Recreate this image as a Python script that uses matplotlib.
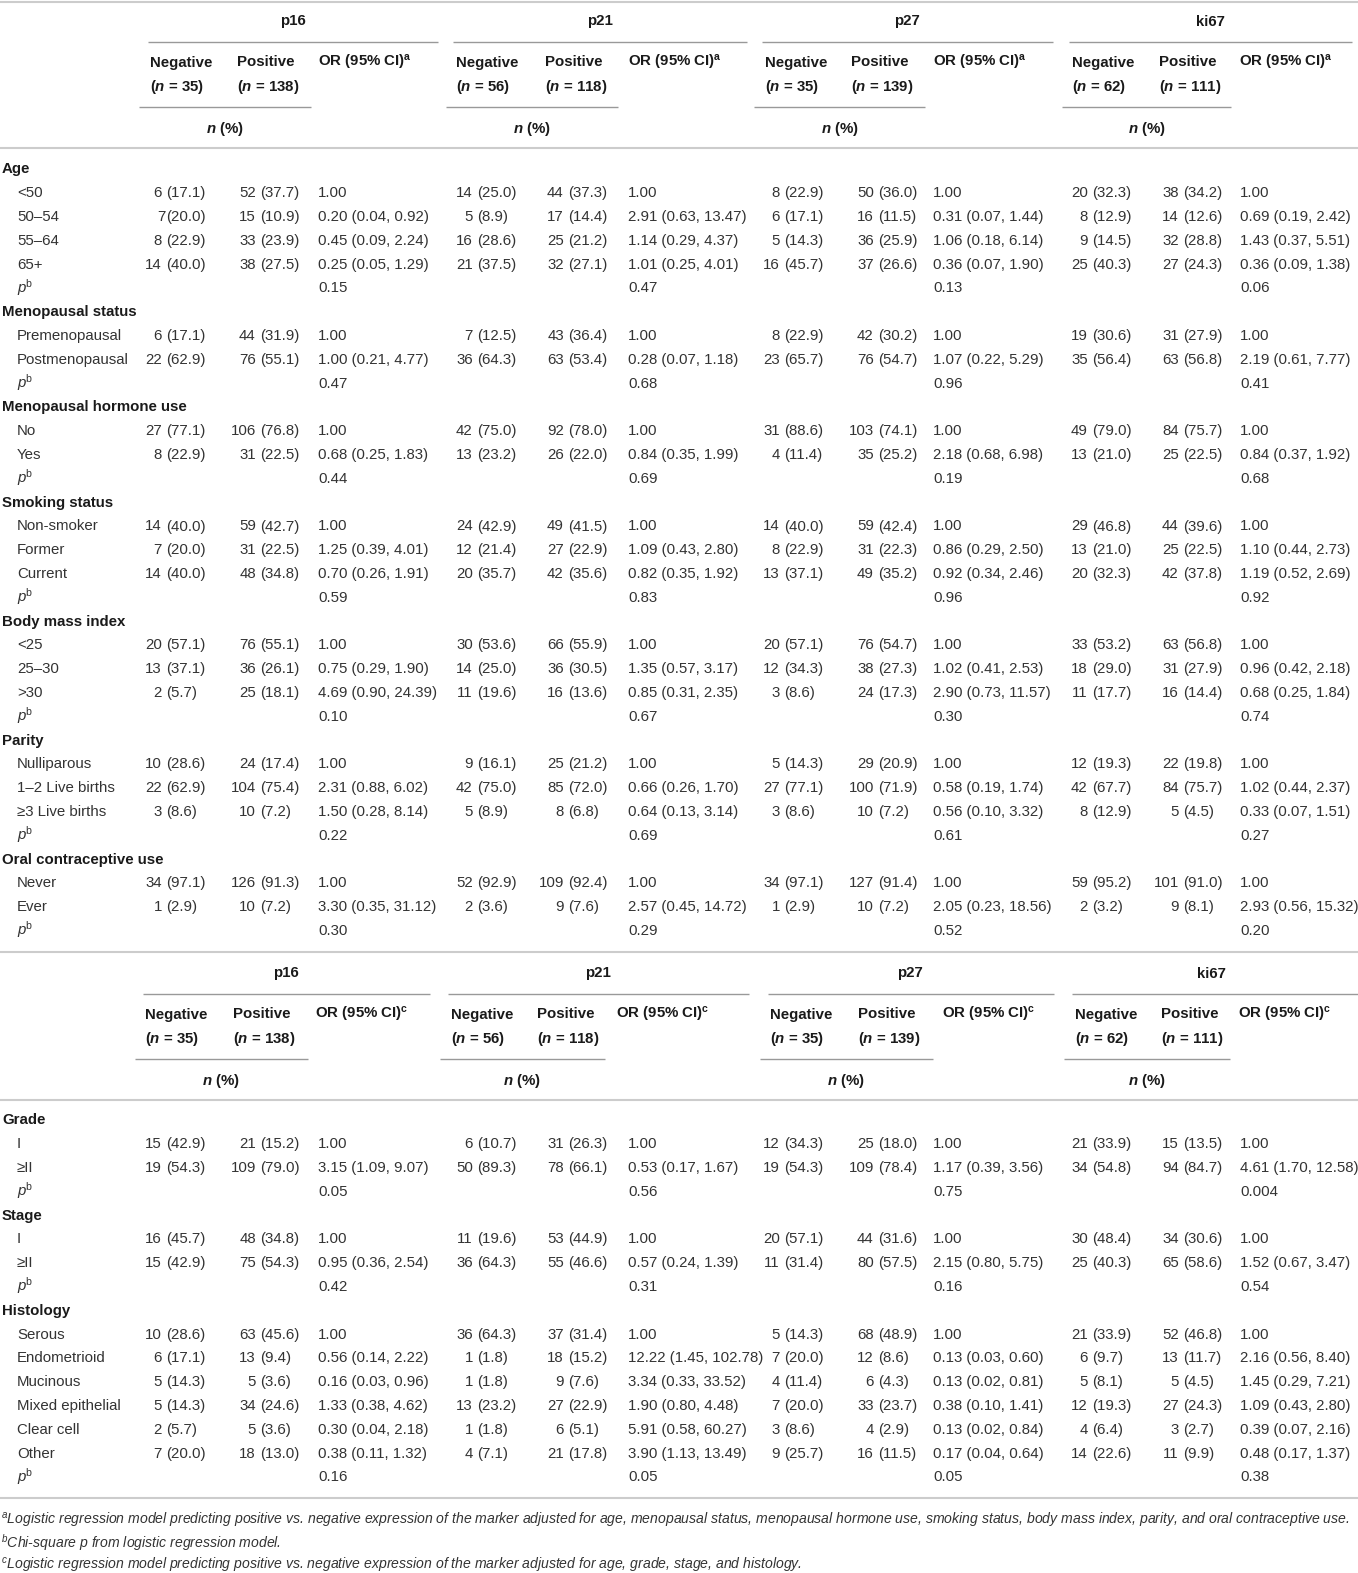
import matplotlib.pyplot as plt

plt.rcParams['font.family'] = ['Liberation Sans', 'DejaVu Sans']
plt.rcParams['mathtext.fontset'] = 'custom'
plt.rcParams['mathtext.rm'] = 'Liberation Sans'
plt.rcParams['mathtext.it'] = 'Liberation Sans:italic:bold'
plt.rcParams['mathtext.bf'] = 'Liberation Sans:bold'
plt.rcParams['mathtext.sf'] = 'Liberation Sans:italic'

# ---- data -------------------------------------------------------------
markers = ['p16', 'p21', 'p27', 'ki67']
n_neg = [35, 56, 35, 62]
n_pos = [138, 118, 139, 111]

# each row: label, then for every marker: negative n (%), positive n (%), OR (95% CI)
age_rows = [
    ('<50', ['6 (17.1)', '52 (37.7)', '1.00', '14 (25.0)', '44 (37.3)', '1.00',
             '8 (22.9)', '50 (36.0)', '1.00', '20 (32.3)', '38 (34.2)', '1.00']),
    ('50–54', ['7(20.0)', '15 (10.9)', '0.20 (0.04, 0.92)', '5 (8.9)', '17 (14.4)', '2.91 (0.63, 13.47)',
               '6 (17.1)', '16 (11.5)', '0.31 (0.07, 1.44)', '8 (12.9)', '14 (12.6)', '0.69 (0.19, 2.42)']),
    ('55–64', ['8 (22.9)', '33 (23.9)', '0.45 (0.09, 2.24)', '16 (28.6)', '25 (21.2)', '1.14 (0.29, 4.37)',
               '5 (14.3)', '36 (25.9)', '1.06 (0.18, 6.14)', '9 (14.5)', '32 (28.8)', '1.43 (0.37, 5.51)']),
    ('65+', ['14 (40.0)', '38 (27.5)', '0.25 (0.05, 1.29)', '21 (37.5)', '32 (27.1)', '1.01 (0.25, 4.01)',
             '16 (45.7)', '37 (26.6)', '0.36 (0.07, 1.90)', '25 (40.3)', '27 (24.3)', '0.36 (0.09, 1.38)']),
]
age_p = ['0.15', '0.47', '0.13', '0.06']

meno_rows = [
    ('Premenopausal', ['6 (17.1)', '44 (31.9)', '1.00', '7 (12.5)', '43 (36.4)', '1.00',
                       '8 (22.9)', '42 (30.2)', '1.00', '19 (30.6)', '31 (27.9)', '1.00']),
    ('Postmenopausal', ['22 (62.9)', '76 (55.1)', '1.00 (0.21, 4.77)', '36 (64.3)', '63 (53.4)', '0.28 (0.07, 1.18)',
                        '23 (65.7)', '76 (54.7)', '1.07 (0.22, 5.29)', '35 (56.4)', '63 (56.8)', '2.19 (0.61, 7.77)']),
]
meno_p = ['0.47', '0.68', '0.96', '0.41']

hormone_rows = [
    ('No', ['27 (77.1)', '106 (76.8)', '1.00', '42 (75.0)', '92 (78.0)', '1.00',
            '31 (88.6)', '103 (74.1)', '1.00', '49 (79.0)', '84 (75.7)', '1.00']),
    ('Yes', ['8 (22.9)', '31 (22.5)', '0.68 (0.25, 1.83)', '13 (23.2)', '26 (22.0)', '0.84 (0.35, 1.99)',
             '4 (11.4)', '35 (25.2)', '2.18 (0.68, 6.98)', '13 (21.0)', '25 (22.5)', '0.84 (0.37, 1.92)']),
]
hormone_p = ['0.44', '0.69', '0.19', '0.68']

smoking_rows = [
    ('Non-smoker', ['14 (40.0)', '59 (42.7)', '1.00', '24 (42.9)', '49 (41.5)', '1.00',
                    '14 (40.0)', '59 (42.4)', '1.00', '29 (46.8)', '44 (39.6)', '1.00']),
    ('Former', ['7 (20.0)', '31 (22.5)', '1.25 (0.39, 4.01)', '12 (21.4)', '27 (22.9)', '1.09 (0.43, 2.80)',
                '8 (22.9)', '31 (22.3)', '0.86 (0.29, 2.50)', '13 (21.0)', '25 (22.5)', '1.10 (0.44, 2.73)']),
    ('Current', ['14 (40.0)', '48 (34.8)', '0.70 (0.26, 1.91)', '20 (35.7)', '42 (35.6)', '0.82 (0.35, 1.92)',
                 '13 (37.1)', '49 (35.2)', '0.92 (0.34, 2.46)', '20 (32.3)', '42 (37.8)', '1.19 (0.52, 2.69)']),
]
smoking_p = ['0.59', '0.83', '0.96', '0.92']

bmi_rows = [
    ('<25', ['20 (57.1)', '76 (55.1)', '1.00', '30 (53.6)', '66 (55.9)', '1.00',
             '20 (57.1)', '76 (54.7)', '1.00', '33 (53.2)', '63 (56.8)', '1.00']),
    ('25–30', ['13 (37.1)', '36 (26.1)', '0.75 (0.29, 1.90)', '14 (25.0)', '36 (30.5)', '1.35 (0.57, 3.17)',
               '12 (34.3)', '38 (27.3)', '1.02 (0.41, 2.53)', '18 (29.0)', '31 (27.9)', '0.96 (0.42, 2.18)']),
    ('>30', ['2 (5.7)', '25 (18.1)', '4.69 (0.90, 24.39)', '11 (19.6)', '16 (13.6)', '0.85 (0.31, 2.35)',
             '3 (8.6)', '24 (17.3)', '2.90 (0.73, 11.57)', '11 (17.7)', '16 (14.4)', '0.68 (0.25, 1.84)']),
]
bmi_p = ['0.10', '0.67', '0.30', '0.74']

parity_rows = [
    ('Nulliparous', ['10 (28.6)', '24 (17.4)', '1.00', '9 (16.1)', '25 (21.2)', '1.00',
                     '5 (14.3)', '29 (20.9)', '1.00', '12 (19.3)', '22 (19.8)', '1.00']),
    ('1–2 Live births', ['22 (62.9)', '104 (75.4)', '2.31 (0.88, 6.02)', '42 (75.0)', '85 (72.0)', '0.66 (0.26, 1.70)',
                         '27 (77.1)', '100 (71.9)', '0.58 (0.19, 1.74)', '42 (67.7)', '84 (75.7)', '1.02 (0.44, 2.37)']),
    ('≥3 Live births', ['3 (8.6)', '10 (7.2)', '1.50 (0.28, 8.14)', '5 (8.9)', '8 (6.8)', '0.64 (0.13, 3.14)',
                        '3 (8.6)', '10 (7.2)', '0.56 (0.10, 3.32)', '8 (12.9)', '5 (4.5)', '0.33 (0.07, 1.51)']),
]
parity_p = ['0.22', '0.69', '0.61', '0.27']

oc_rows = [
    ('Never', ['34 (97.1)', '126 (91.3)', '1.00', '52 (92.9)', '109 (92.4)', '1.00',
               '34 (97.1)', '127 (91.4)', '1.00', '59 (95.2)', '101 (91.0)', '1.00']),
    ('Ever', ['1 (2.9)', '10 (7.2)', '3.30 (0.35, 31.12)', '2 (3.6)', '9 (7.6)', '2.57 (0.45, 14.72)',
              '1 (2.9)', '10 (7.2)', '2.05 (0.23, 18.56)', '2 (3.2)', '9 (8.1)', '2.93 (0.56, 15.32)']),
]
oc_p = ['0.30', '0.29', '0.52', '0.20']

grade_rows = [
    ('I', ['15 (42.9)', '21 (15.2)', '1.00', '6 (10.7)', '31 (26.3)', '1.00',
           '12 (34.3)', '25 (18.0)', '1.00', '21 (33.9)', '15 (13.5)', '1.00']),
    ('≥II', ['19 (54.3)', '109 (79.0)', '3.15 (1.09, 9.07)', '50 (89.3)', '78 (66.1)', '0.53 (0.17, 1.67)',
             '19 (54.3)', '109 (78.4)', '1.17 (0.39, 3.56)', '34 (54.8)', '94 (84.7)', '4.61 (1.70, 12.58)']),
]
grade_p = ['0.05', '0.56', '0.75', '0.004']

stage_rows = [
    ('I', ['16 (45.7)', '48 (34.8)', '1.00', '11 (19.6)', '53 (44.9)', '1.00',
           '20 (57.1)', '44 (31.6)', '1.00', '30 (48.4)', '34 (30.6)', '1.00']),
    ('≥II', ['15 (42.9)', '75 (54.3)', '0.95 (0.36, 2.54)', '36 (64.3)', '55 (46.6)', '0.57 (0.24, 1.39)',
             '11 (31.4)', '80 (57.5)', '2.15 (0.80, 5.75)', '25 (40.3)', '65 (58.6)', '1.52 (0.67, 3.47)']),
]
stage_p = ['0.42', '0.31', '0.16', '0.54']

histology_rows = [
    ('Serous', ['10 (28.6)', '63 (45.6)', '1.00', '36 (64.3)', '37 (31.4)', '1.00',
                '5 (14.3)', '68 (48.9)', '1.00', '21 (33.9)', '52 (46.8)', '1.00']),
    ('Endometrioid', ['6 (17.1)', '13 (9.4)', '0.56 (0.14, 2.22)', '1 (1.8)', '18 (15.2)', '12.22 (1.45, 102.78)',
                      '7 (20.0)', '12 (8.6)', '0.13 (0.03, 0.60)', '6 (9.7)', '13 (11.7)', '2.16 (0.56, 8.40)']),
    ('Mucinous', ['5 (14.3)', '5 (3.6)', '0.16 (0.03, 0.96)', '1 (1.8)', '9 (7.6)', '3.34 (0.33, 33.52)',
                  '4 (11.4)', '6 (4.3)', '0.13 (0.02, 0.81)', '5 (8.1)', '5 (4.5)', '1.45 (0.29, 7.21)']),
    ('Mixed epithelial', ['5 (14.3)', '34 (24.6)', '1.33 (0.38, 4.62)', '13 (23.2)', '27 (22.9)', '1.90 (0.80, 4.48)',
                          '7 (20.0)', '33 (23.7)', '0.38 (0.10, 1.41)', '12 (19.3)', '27 (24.3)', '1.09 (0.43, 2.80)']),
    ('Clear cell', ['2 (5.7)', '5 (3.6)', '0.30 (0.04, 2.18)', '1 (1.8)', '6 (5.1)', '5.91 (0.58, 60.27)',
                    '3 (8.6)', '4 (2.9)', '0.13 (0.02, 0.84)', '4 (6.4)', '3 (2.7)', '0.39 (0.07, 2.16)']),
    ('Other', ['7 (20.0)', '18 (13.0)', '0.38 (0.11, 1.32)', '4 (7.1)', '21 (17.8)', '3.90 (1.13, 13.49)',
               '9 (25.7)', '16 (11.5)', '0.17 (0.04, 0.64)', '14 (22.6)', '11 (9.9)', '0.48 (0.17, 1.37)']),
]
histology_p = ['0.16', '0.05', '0.05', '0.38']

table1 = [('Age', age_rows, age_p),
          ('Menopausal status', meno_rows, meno_p),
          ('Menopausal hormone use', hormone_rows, hormone_p),
          ('Smoking status', smoking_rows, smoking_p),
          ('Body mass index', bmi_rows, bmi_p),
          ('Parity', parity_rows, parity_p),
          ('Oral contraceptive use', oc_rows, oc_p)]
table2 = [('Grade', grade_rows, grade_p),
          ('Stage', stage_rows, stage_p),
          ('Histology', histology_rows, histology_p)]

footnotes = [
    ('a', 'Logistic regression model predicting positive vs. negative expression of the marker adjusted for age, '
          'menopausal status, menopausal hormone use, smoking status, body mass index, parity, and oral contraceptive use.'),
    ('b', 'Chi-square p from logistic regression model.'),
    ('c', 'Logistic regression model predicting positive vs. negative expression of the marker adjusted for age, '
          'grade, stage, and histology.'),
]

# ---- layout -----------------------------------------------------------
W, H = 1358, 1573
FS = 10.8
DATA_C = '#333333'
HEAD_C = '#1a1a1a'
RULE_C = '#cccccc'
SPAN_C = '#999999'

# column anchors (x of the opening parenthesis for n (%) cells, left of OR cells)
neg_x = [166, 477, 784, 1092]
pos_x = [260, 568, 878, 1183]
or_x = [318, 628, 933, 1240]

head1 = dict(title=[293, 600, 907, 1210],
             span=[(148, 438), (453, 747), (762, 1053), (1069, 1352)],
             lower=[(139, 311), (446, 618), (754, 925), (1062, 1231)],
             npct=[225, 532, 840, 1147],
             cols=[(150, 237, 318), (456, 545, 628), (765, 851, 933), (1072, 1159, 1239)],
             sup='a')
head2 = dict(title=[286, 598, 910, 1211],
             span=[(143, 430), (448, 749), (768, 1054), (1072, 1358)],
             lower=[(135, 308), (440, 605), (760, 933), (1064, 1230)],
             npct=[221, 522, 846, 1147],
             cols=[(145, 233, 315), (451, 537, 616), (770, 858, 942), (1075, 1161, 1238)],
             sup='c')

fig = plt.figure(figsize=(W / 100, H / 100), dpi=100)
ax = fig.add_axes([0, 0, 1, 1])
ax.set_xlim(0, W)
ax.set_ylim(H, 0)
ax.axis('off')

BL = 5.5  # baseline offset from the visual centre of a line


def txt(x, y, s, bold=False, ha='left', **kw):
    ax.text(x, y + BL, s, ha=ha, va='baseline', fontsize=kw.pop('fontsize', FS),
            fontweight='bold' if bold else 'normal',
            color=HEAD_C if bold else DATA_C, **kw)


def count_cell(xp, y, s):
    i = s.index('(')
    cnt, rest = s[:i], s[i:]
    gap = 4.2 if cnt.endswith(' ') else 0.3
    txt(xp - gap, y, cnt.strip(), ha='right')
    txt(xp, y, rest)


def rule(y, x0=0, x1=W, color=RULE_C, lw=1.5):
    ax.plot([x0, x1], [y, y], color=color, lw=lw, solid_capstyle='butt')


def header(y0, hd):
    for k, m in enumerate(markers):
        txt(hd['title'][k], y0 + 20, m, bold=True, ha='center')
        rule(y0 + 42, *hd['span'][k], color=SPAN_C, lw=1.0)
        xn, xpos, xor = hd['cols'][k]
        txt(xn, y0 + 61, 'Negative', bold=True)
        txt(xpos, y0 + 61, 'Positive', bold=True)
        txt(xor, y0 + 61, 'OR (95% CI)$^{\\mathbf{' + hd['sup'] + '}}$', bold=True)
        txt(xn, y0 + 85, '($n$ = ' + str(n_neg[k]) + ')', bold=True)
        txt(xpos, y0 + 85, '($n$ = ' + str(n_pos[k]) + ')', bold=True)
        rule(y0 + 107, *hd['lower'][k], color=SPAN_C, lw=1.0)
        txt(hd['npct'][k], y0 + 127, r'$n$ (%)', bold=True, ha='center')
    rule(y0 + 148)


def body(y_start, sections):
    y = y_start
    step = 23.8
    for title, rows, pvals in sections:
        txt(2, y, title, bold=True)
        y += step
        for label, vals in rows:
            txt(17, y, label)
            for k in range(4):
                count_cell(neg_x[k], y, vals[3 * k])
                count_cell(pos_x[k], y, vals[3 * k + 1])
                txt(or_x[k], y, vals[3 * k + 2])
            y += step
        txt(17, y, r'$\mathsf{p}^{\mathrm{b}}$')
        for k in range(4):
            txt(or_x[k], y, pvals[k])
        y += step


rule(1.5)
header(0, head1)
body(168, table1)
rule(952)
header(952, head2)
body(1119, table2)
rule(1498)

fn_y = [1521, 1544, 1566]
for (letter, note), y in zip(footnotes, fn_y):
    ax.text(1, y + 4, '$^{\\mathsf{' + letter + '}}$' + note, ha='left', va='baseline',
            fontsize=10.08, style='italic', color=DATA_C)

plt.savefig('out.png', dpi=100)
